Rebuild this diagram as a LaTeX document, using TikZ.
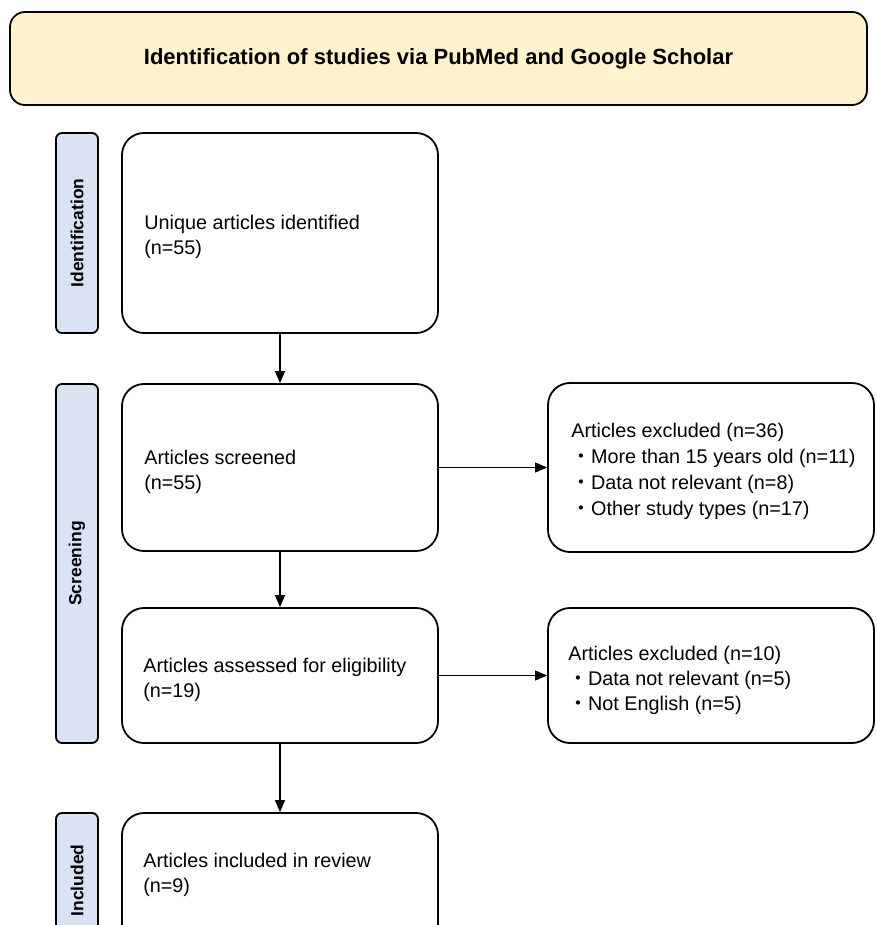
\documentclass[tikz,border=0pt]{standalone}
\usepackage{fontspec}
\setmainfont{Liberation Sans}
\newfontfamily\cjkfont{Noto Sans CJK JP}
\usetikzlibrary{arrows.meta}
\definecolor{bannerfill}{HTML}{FFF2CC}
\definecolor{labfill}{HTML}{DAE3F3}
\newcommand{\bul}{{\cjkfont ・}}
\begin{document}
\begin{tikzpicture}[x=1pt,y=-1pt,
  box/.style={draw=black, line width=1.8pt, rounded corners=22pt, fill=white, inner sep=0pt},
  txt/.style={anchor=west, align=left, inner sep=0pt, font=\fontsize{19.8}{25}\selectfont},
  lab/.style={draw=black, line width=1.8pt, fill=labfill, rounded corners=6pt, rotate=90,
    minimum height=42pt, inner sep=0pt, font=\bfseries\fontsize{17.5}{20}\selectfont},
  banner/.style={draw=black, line width=1.8pt, fill=bannerfill, rounded corners=15pt,
    minimum width=857pt, minimum height=93pt, font=\bfseries\fontsize{22}{26}\selectfont},
  arr/.style={-{Triangle[length=12pt,width=10pt]}, line width=1.1pt}]
\useasboundingbox (0,0) rectangle (876,925);
\clip (0,0) rectangle (876,925);
\fill[white] (0,0) rectangle (876,925);

\node[banner] (title) at (438.5,58.5) {Identification of studies via PubMed and Google Scholar};

\node[lab, minimum width=200pt] (labid) at (77,233) {Identification};
\node[lab, minimum width=359pt] (labscr) at (77,563.5) {Screening};
\node[lab, minimum width=135pt] (labinc) at (77,880.5) {Included};

\node[box, minimum width=316pt, minimum height=200pt] (unique) at (280,233) {};
\node[box, minimum width=316pt, minimum height=167pt] (screen) at (280,467.5) {};
\node[box, minimum width=316pt, minimum height=135pt] (assess) at (280,675.5) {};
\node[box, minimum width=316pt, minimum height=135pt] (incl) at (280,880.5) {};
\node[box, minimum width=326pt, minimum height=169pt] (excl1) at (711,467.5) {};
\node[box, minimum width=326pt, minimum height=135pt] (excl2) at (711,675.5) {};

\node[txt] (tunique) at ([xshift=23pt,yshift=-4pt]unique.west) {Unique articles identified\\(n=55)};
\node[txt] (tscreen) at ([xshift=23pt,yshift=-4pt]screen.west) {Articles screened\\(n=55)};
\node[txt] (tassess) at ([xshift=22pt,yshift=-4pt]assess.west) {Articles assessed for eligibility\\(n=19)};
\node[txt] (tincl) at ([xshift=22pt,yshift=6pt]incl.west) {Articles included in review\\(n=9)};
\node[txt, font=\fontsize{19.8}{25.8}\selectfont] (texcl1) at ([xshift=24pt,yshift=-4pt]excl1.west)
  {Articles excluded (n=36)\\\bul More than 15 years old (n=11)\\\bul Data not relevant (n=8)\\\bul Other study types (n=17)};
\node[txt, font=\fontsize{19.8}{25}\selectfont] (texcl2) at ([xshift=21pt,yshift=-5pt]excl2.west)
  {Articles excluded (n=10)\\\bul Data not relevant (n=5)\\\bul Not English (n=5)};

\draw[arr] (unique.south) -- (screen.north);
\draw[arr] (screen.south) -- (assess.north);
\draw[arr] (assess.south) -- (incl.north);
\draw[arr] (screen.east) -- (excl1.west);
\draw[arr] (assess.east) -- (excl2.west);
\end{tikzpicture}
\end{document}
